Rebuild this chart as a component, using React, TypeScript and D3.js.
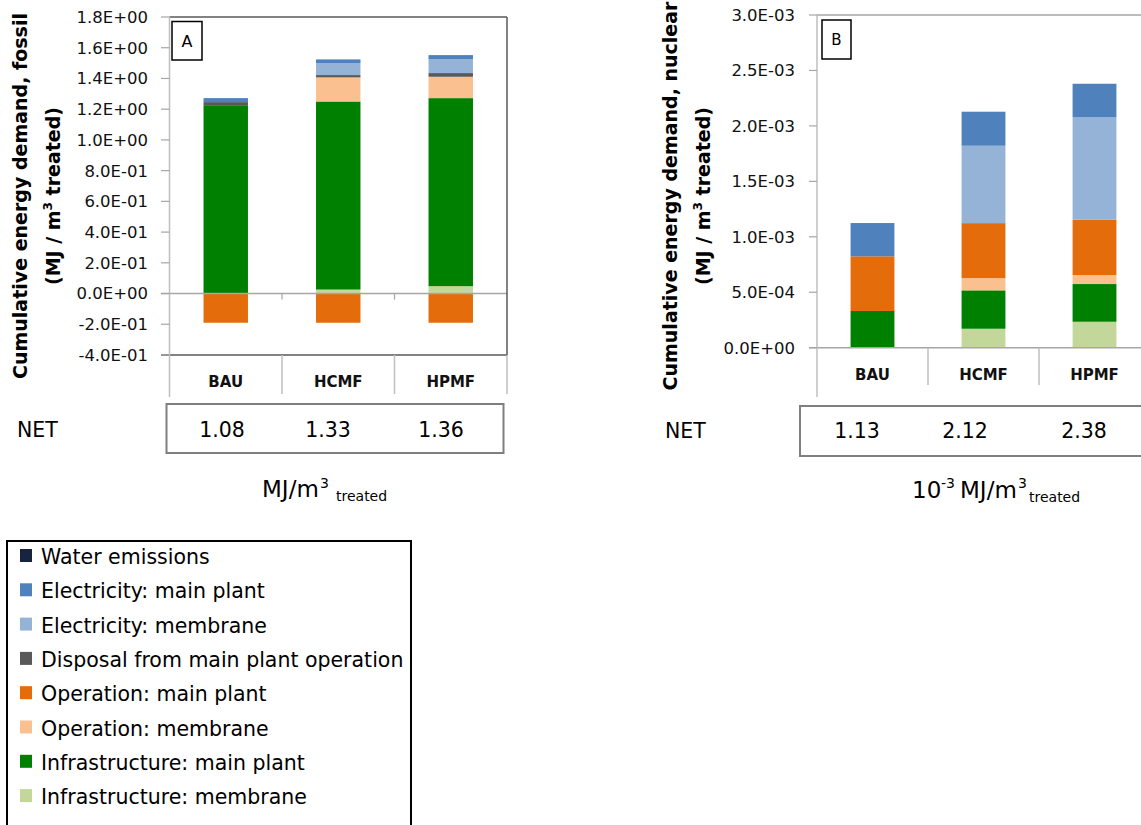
import React from "react";
import * as d3 from "d3";

// ---------- DATA ----------
const categories = ["BAU", "HCMF", "HPMF"];

// legend order (top to bottom)
const seriesNames = [
  "Water emissions",
  "Electricity: main plant",
  "Electricity: membrane",
  "Disposal from main plant operation",
  "Operation: main plant",
  "Operation: membrane",
  "Infrastructure: main plant",
  "Infrastructure: membrane",
];
const seriesColors = [
  "#17243f",
  "#4f81bd",
  "#95b3d7",
  "#595959",
  "#e46c0a",
  "#fac090",
  "#008000",
  "#c4d79b",
];

// Panel A: fossil (MJ/m3 treated)
const fossilWater = [0, 0, 0];
const fossilElecMain = [0.026, 0.024, 0.026];
const fossilElecMembrane = [0, 0.078, 0.091];
const fossilDisposal = [0.02, 0.015, 0.024];
const fossilOpMain = [-0.19, -0.19, -0.19];
const fossilOpMembrane = [0, 0.157, 0.139];
const fossilInfraMain = [1.226, 1.224, 1.224];
const fossilInfraMembrane = [0, 0.026, 0.048];
const fossilNet = ["1.08", "1.33", "1.36"];
const fossilTicks = [-0.4, -0.2, 0, 0.2, 0.4, 0.6, 0.8, 1.0, 1.2, 1.4, 1.6, 1.8];

// Panel B: nuclear (MJ/m3 treated)
const nuclearWater = [0, 0, 0];
const nuclearElecMain = [0.000300, 0.000307, 0.000303];
const nuclearElecMembrane = [0, 0.000697, 0.000923];
const nuclearDisposal = [0, 0.000003, 0];
const nuclearOpMain = [0.000493, 0.000493, 0.000499];
const nuclearOpMembrane = [0, 0.000111, 0.000081];
const nuclearInfraMain = [0.000331, 0.000346, 0.00034];
const nuclearInfraMembrane = [0, 0.000171, 0.000234];
const nuclearNet = ["1.13", "2.12", "2.38"];
const nuclearTicks = [0, 0.0005, 0.001, 0.0015, 0.002, 0.0025, 0.003];

// ---------- HELPERS ----------
const FONT = "DejaVu Sans";

function sci(v: number): string {
  const s = v.toExponential(1); // e.g. "3.0e-3"
  const m = s.match(/^(-?[\d.]+)e([+-])(\d+)$/);
  if (!m) return s;
  return `${m[1]}E${m[2]}${m[3].padStart(2, "0")}`;
}

type PanelProps = {
  series: number[][]; // in legend order
  ticks: number[];
  net: string[];
  netX: number[];
  letter: string;
  title: string;
  x0: number;
  x1: number;
  yTop: number;
  yBot: number;
  domain: [number, number];
  tickLabelX: number;
  tickX0: number;
  sepBottom: number;
  catLabelY: number;
  axisBottom: number;
  framed: boolean;
  titleX1: number;
  titleX2: number;
  netLabelX: number;
  netBox: [number, number, number, number];
  netBaseline: number;
  letterBox: [number, number, number, number];
  letterSize: number;
};

function Panel(p: PanelProps) {
  const x = d3
    .scaleBand<string>()
    .domain(categories)
    .range([p.x0, p.x1])
    .paddingInner(0.605)
    .paddingOuter(0.3025);
  const cell = d3.scaleBand<string>().domain(categories).range([p.x0, p.x1]).padding(0);
  const y = d3.scaleLinear().domain(p.domain).range([p.yBot, p.yTop]);

  // stack from bottom (last legend item) to top (first legend item)
  const keys = d3.range(seriesNames.length).reverse().map((i) => String(i));
  const rows = categories.map((c, ci) => {
    const r: Record<string, number> = {};
    keys.forEach((k) => (r[k] = p.series[+k][ci]));
    return r;
  });
  const stacked = d3
    .stack<Record<string, number>>()
    .keys(keys)
    .offset(d3.stackOffsetDiverging)(rows);

  const y0 = y(0);
  const axisGray = "#a6a6a6";
  const sepGray = "#bfbfbf";
  const frameColor = "#595959";

  return (
    <g>
      {/* bars */}
      {stacked.map((layer) => (
        <g key={layer.key} fill={seriesColors[+layer.key]}>
          {layer.map((d, ci) => {
            const top = y(Math.max(d[0], d[1]));
            const bot = y(Math.min(d[0], d[1]));
            if (bot - top <= 0) return null;
            return (
              <rect
                key={ci}
                x={x(categories[ci])}
                y={top}
                width={x.bandwidth()}
                height={bot - top}
              />
            );
          })}
        </g>
      ))}

      {/* zero line */}
      <line x1={p.tickX0} x2={p.x1} y1={y0} y2={y0} stroke={axisGray} strokeWidth={1.5} />
      {p.framed &&
        categories.slice(1).map((c) => (
          <line key={c} x1={cell(c)} x2={cell(c)} y1={y0} y2={y0 + 6} stroke={axisGray} strokeWidth={1.2} />
        ))}

      {/* frame */}
      <line
        x1={p.x0}
        x2={p.x1}
        y1={p.yTop}
        y2={p.yTop}
        stroke={p.framed ? frameColor : axisGray}
        strokeWidth={1.5}
      />
      {p.framed && (
        <>
          <line x1={p.x1} x2={p.x1} y1={p.yTop} y2={p.yBot} stroke={frameColor} strokeWidth={1.5} />
          <line x1={p.tickX0} x2={p.x1} y1={p.yBot} y2={p.yBot} stroke={frameColor} strokeWidth={1.5} />
        </>
      )}

      {/* y axis */}
      <line x1={p.x0} x2={p.x0} y1={p.yTop} y2={p.axisBottom} stroke={sepGray} strokeWidth={1.5} />
      {p.ticks.map((t) => (
        <g key={t}>
          <line x1={p.tickX0} x2={p.x0} y1={y(t)} y2={y(t)} stroke={axisGray} strokeWidth={1.2} />
          <text
            x={p.tickLabelX}
            y={y(t)}
            dy="0.36em"
            textAnchor="end"
            fontFamily={FONT}
            fontSize={16.5}
            fill="#111"
          >
            {sci(t)}
          </text>
        </g>
      ))}

      {/* category separators & labels */}
      {categories.map((c) => (
        <line
          key={"s" + c}
          x1={(cell(c) as number) + cell.bandwidth()}
          x2={(cell(c) as number) + cell.bandwidth()}
          y1={p.framed ? p.yBot : y0}
          y2={p.sepBottom}
          stroke={sepGray}
          strokeWidth={1.5}
        />
      ))}
      {categories.map((c) => (
        <text
          key={"l" + c}
          x={(x(c) as number) + x.bandwidth() / 2}
          y={p.catLabelY}
          textAnchor="middle"
          fontFamily={FONT}
          fontWeight="bold"
          fontSize={15}
          fill="#111"
        >
          {c}
        </text>
      ))}

      {/* letter box */}
      <rect
        x={p.letterBox[0]}
        y={p.letterBox[1]}
        width={p.letterBox[2]}
        height={p.letterBox[3]}
        fill="#fff"
        stroke="#000"
        strokeWidth={1.5}
      />
      <text
        x={p.letterBox[0] + p.letterBox[2] / 2}
        y={p.letterBox[1] + p.letterBox[3] / 2}
        dy="0.36em"
        textAnchor="middle"
        fontFamily={FONT}
        fontSize={p.letterSize}
        fill="#000"
      >
        {p.letter}
      </text>

      {/* y title */}
      <text
        transform={`translate(${p.titleX1},196) rotate(-90)`}
        textAnchor="middle"
        fontFamily={FONT}
        fontWeight="bold"
        fontSize={19}
        fill="#000"
      >
        {p.title}
      </text>
      <text
        transform={`translate(${p.titleX2},196) rotate(-90)`}
        textAnchor="middle"
        fontFamily={FONT}
        fontWeight="bold"
        fontSize={19}
        fill="#000"
      >
        (MJ / m
        <tspan fontSize={12} dy={-8}>
          3
        </tspan>
        <tspan dy={8}> treated)</tspan>
      </text>

      {/* NET row */}
      <text x={p.netLabelX} y={p.netBaseline} fontFamily={FONT} fontSize={20.5} fill="#000">
        NET
      </text>
      <rect
        x={p.netBox[0]}
        y={p.netBox[1]}
        width={p.netBox[2]}
        height={p.netBox[3]}
        fill="none"
        stroke="#7f7f7f"
        strokeWidth={2}
      />
      {p.net.map((v, i) => (
        <text
          key={v + i}
          x={p.netX[i]}
          y={p.netBaseline}
          textAnchor="middle"
          fontFamily={FONT}
          fontSize={20.5}
          fill="#000"
        >
          {v}
        </text>
      ))}
    </g>
  );
}

export default function App() {
  const fossilSeries = [
    fossilWater,
    fossilElecMain,
    fossilElecMembrane,
    fossilDisposal,
    fossilOpMain,
    fossilOpMembrane,
    fossilInfraMain,
    fossilInfraMembrane,
  ];
  const nuclearSeries = [
    nuclearWater,
    nuclearElecMain,
    nuclearElecMembrane,
    nuclearDisposal,
    nuclearOpMain,
    nuclearOpMembrane,
    nuclearInfraMain,
    nuclearInfraMembrane,
  ];

  const rowStep = 34.3;

  return (
    <svg
      width={1141}
      height={825}
      style={{ position: "fixed", left: 0, top: 0, background: "#fff" }}
    >
      <rect x={0} y={0} width={1141} height={825} fill="#fff" />

      <Panel
        series={fossilSeries}
        ticks={fossilTicks}
        net={fossilNet}
        netX={[222, 328, 441]}
        letter="A"
        title="Cumulative energy demand, fossil"
        x0={169.5}
        x1={507}
        yTop={17}
        yBot={355}
        domain={[-0.4, 1.8]}
        tickLabelX={148}
        tickX0={161}
        sepBottom={394}
        catLabelY={386.5}
        axisBottom={397}
        framed={true}
        titleX1={27}
        titleX2={60}
        netLabelX={17}
        netBox={[166.5, 404, 337, 49]}
        netBaseline={437}
        letterBox={[172, 21.5, 30, 38.5]}
        letterSize={16}
      />

      <Panel
        series={nuclearSeries}
        ticks={nuclearTicks}
        net={nuclearNet}
        netX={[857, 965, 1084]}
        letter="B"
        title="Cumulative energy demand, nuclear"
        x0={817}
        x1={1150}
        yTop={15}
        yBot={347.7}
        domain={[0, 0.003]}
        tickLabelX={795}
        tickX0={809}
        sepBottom={385}
        catLabelY={380}
        axisBottom={397}
        framed={false}
        titleX1={677}
        titleX2={710}
        netLabelX={665}
        netBox={[800, 406, 360, 50]}
        netBaseline={438}
        letterBox={[822, 20, 29, 39]}
        letterSize={15}
      />

      {/* units A */}
      <text x={262} y={497} fontFamily={FONT} fontSize={23} fill="#000">
        MJ/m
      </text>
      <text x={320} y={488} fontFamily={FONT} fontSize={14} fill="#000">
        3
      </text>
      <text x={336} y={501} fontFamily={FONT} fontSize={14} fill="#000">
        treated
      </text>

      {/* units B */}
      <text x={912} y={498} fontFamily={FONT} fontSize={23} fill="#000">
        10
      </text>
      <text x={941} y={488} fontFamily={FONT} fontSize={14} fill="#000">
        -3
      </text>
      <text x={960} y={498} fontFamily={FONT} fontSize={23} fill="#000">
        MJ/m
      </text>
      <text x={1018} y={488} fontFamily={FONT} fontSize={14} fill="#000">
        3
      </text>
      <text x={1029} y={502} fontFamily={FONT} fontSize={14} fill="#000">
        treated
      </text>

      {/* legend */}
      <rect x={7} y={541} width={404} height={300} fill="#fff" stroke="#000" strokeWidth={2} />
      {seriesNames.map((name, i) => (
        <g key={name}>
          <rect x={20} y={549 + i * rowStep} width={12} height={13} fill={seriesColors[i]} />
          <text x={41} y={564 + i * rowStep} fontFamily={FONT} fontSize={20.5} fill="#000">
            {name}
          </text>
        </g>
      ))}
    </svg>
  );
}
